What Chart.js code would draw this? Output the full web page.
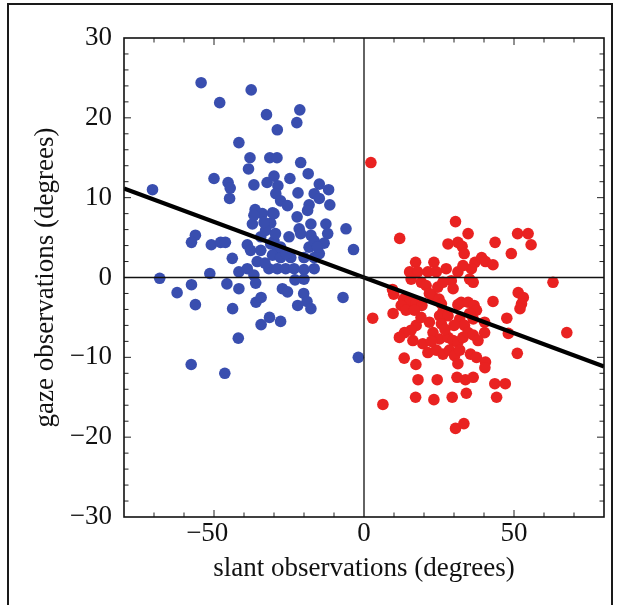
<!DOCTYPE html>
<html><head><meta charset="utf-8">
<script src="https://cdn.jsdelivr.net/npm/chart.js@4.4.1/dist/chart.umd.min.js"></script>
<style>
html,body{margin:0;padding:0;background:#fff;}
#wrap{position:relative;width:617px;height:605px;overflow:hidden;background:#fff;}
#frame{position:absolute;left:7px;top:3px;width:606px;height:700px;border:2px solid #1a1a1a;box-sizing:border-box;}
canvas{position:absolute;left:0;top:0;}
</style></head>
<body><div id="wrap"><div id="frame"></div><canvas id="c" width="617" height="605"></canvas></div>
<script>
// ---- data ----
const blueSlant = [-54.3,-48.1,-37.6,-32.5,-21.4,-22.4,-28.9,-41.7,-38.0,-31.4,-29.0,-21.1,-38.5,-18.6,-50.0,-45.3,-44.6,-44.8,-36.7,-32.3,
 -30.0,-28.7,-24.7,-14.9,-11.8,-70.5,-29.4,-27.8,-22.0,-16.6,-14.9,-11.4,-25.5,-18.3,-18.8,-36.3,-33.9,-30.5,-22.3,-31.1,
 -37.2,-36.7,-21.6,-21.1,-17.7,-17.7,-12.7,-12.1,-13.3,-25.0,-6.0,-3.5,-56.2,-57.5,-50.9,-47.8,-46.2,-43.9,-51.4,-38.9,
 -37.8,-34.4,-34.4,-35.6,-32.8,-41.7,-38.9,-36.7,-36.1,-45.7,-41.7,-57.5,-56.2,-43.8,-68.1,-62.3,-30.0,-31.1,-28.9,-30.5,
 -27.8,-24.4,-20.0,-18.3,-16.6,-14.9,-31.7,-28.9,-26.1,-23.3,-20.0,-16.6,-20.0,-27.2,-25.5,-20.1,-19.0,-17.7,-22.1,-36.0,
 -34.3,-7.0,-31.5,-34.3,-27.8,-41.9,-1.9,-57.6,-46.4,-33.3,-16.6,-15.5,-30.0,-27.8,-33.0,-29.5,-26.0,-23.0];
const blueGaze = [24.4,21.9,23.5,20.4,21.0,19.4,18.5,16.9,15.0,15.0,15.0,14.4,13.6,13.0,12.4,11.9,11.2,9.9,11.6,11.9,
 12.7,11.5,12.4,11.7,11.0,11.0,10.5,9.6,10.6,10.5,9.9,9.1,9.0,9.1,8.4,8.5,8.0,8.1,7.6,6.8,
 6.7,7.8,6.1,5.5,6.7,5.3,6.7,5.5,4.3,5.1,6.1,3.5,5.3,4.4,4.1,4.4,4.4,2.4,0.5,4.1,
 3.4,5.1,3.4,2.0,5.9,0.7,1.1,0.3,-0.7,-0.8,-1.4,-0.9,-3.4,-3.9,-0.1,-1.9,8.0,4.2,3.6,2.8,
 2.5,2.5,2.5,3.8,2.5,3.0,1.1,1.1,1.1,1.1,1.0,1.1,-0.2,-1.4,-1.8,-2.0,-3.0,-3.9,-3.5,-3.1,
 -2.5,-2.5,-5.0,-5.9,-5.5,-7.6,-10.0,-10.9,-12.0,6.9,4.6,3.8,4.6,3.8,1.8,5.5,3.0,-0.3];

const redSlant = [2.3,11.9,30.5,34.7,28.0,31.3,32.7,33.4,43.7,51.2,54.7,55.7,49.1,17.2,23.3,37.0,39.2,40.5,43.0,35.8,
 35.2,36.4,27.4,31.3,29.1,29.7,15.2,17.9,21.3,24.1,15.7,19.1,20.7,24.6,26.3,9.5,9.9,63.0,51.4,53.1,
 52.5,52.0,43.0,13.2,15.2,17.4,23.0,25.0,32.4,34.7,36.7,2.9,9.7,12.4,19.3,14.0,16.8,21.8,25.8,26.3,
 25.2,28.0,31.3,37.5,35.2,31.9,33.5,36.4,40.2,21.8,25.8,47.6,40.2,48.1,67.6,17.4,15.7,13.5,11.8,16.3,
 19.6,23.0,25.2,28.0,29.7,31.3,33.0,34.7,36.4,38.0,21.3,24.1,26.3,28.5,30.2,31.9,35.5,37.5,40.5,40.3,
 51.1,13.4,17.3,31.3,18.0,24.4,31.0,33.8,36.4,43.6,47.1,34.1,44.2,17.2,23.3,29.4,6.3,30.5,33.3,22.5,
 27.0,30.0,19.0,33.0];
const redGaze = [14.4,4.9,7.0,5.5,4.2,4.4,3.9,3.0,4.4,5.5,5.5,4.1,3.0,1.9,1.9,1.9,2.5,2.0,1.6,1.1,
 -0.2,-0.6,1.1,0.7,-0.4,-1.4,0.7,0.7,0.7,0.7,-0.2,-0.6,-1.0,-1.2,-0.6,-1.5,-2.1,-0.6,-1.9,-2.5,
 -3.3,-3.9,-3.0,-2.7,-3.0,-3.2,-2.4,-2.7,-3.1,-3.1,-3.5,-5.1,-4.5,-3.5,-3.5,-4.1,-4.1,-2.0,-3.3,-4.3,
 -4.8,-4.8,-3.4,-4.1,-4.5,-5.2,-6.0,-5.2,-5.6,-5.6,-5.8,-5.1,-6.9,-7.0,-6.9,-6.0,-6.6,-6.9,-7.5,-7.9,
 -8.3,-6.9,-7.7,-7.5,-7.9,-8.1,-7.5,-6.9,-7.2,-7.9,-9.4,-9.1,-9.6,-9.1,-9.8,-9.1,-9.6,-10.0,-10.6,-11.3,
 -9.5,-10.1,-10.9,-10.8,-12.8,-12.8,-12.5,-12.8,-12.5,-13.3,-13.3,-14.5,-15.0,-15.0,-15.3,-15.0,-15.9,-18.9,-18.3,-8.0,
 -6.5,-6.0,-5.0,1.5];

const fitSlant = [-80, 80];
const fitGaze = [11.15, -11.15];

const xTickLabels = [-50, 0, 50];
const yTickLabels = [-30, -20, -10, 0, 10, 20, 30];
const xMinorTicks = [-70,-60,-50,-40,-30,-20,-10,10,20,30,40,50,60,70];
const yMinorTicks = [-28,-26,-24,-22,-20,-18,-16,-14,-12,-10,-8,-6,-4,-2,2,4,6,8,10,12,14,16,18,20,22,24,26,28];
const xTitle = 'slant observations (degrees)';
const yTitle = 'gaze observations (degrees)';

// ---- build ----
const pts = (xs, ys) => xs.map((v, i) => ({x: v, y: ys[i]}));
const serif = "'Liberation Serif','Times New Roman',serif";
const fmt = v => v < 0 ? '\u2212' + Math.abs(v) : String(v);
// x labels: digits centred on the tick, minus hanging to the left
const fmtX = v => v < 0 ? '\u2212' + Math.abs(v) + '\u2002' : String(v);

const framePlugin = {
  id: 'frameTicks',
  afterDatasetsDraw(chart) {
    const {ctx, chartArea: a, scales: {x, y}} = chart;
    ctx.save();
    ctx.strokeStyle = '#111';
    ctx.lineWidth = 1.3;
    const x0 = x.getPixelForValue(0), y0 = y.getPixelForValue(0);
    ctx.beginPath();
    ctx.moveTo(x0, a.top); ctx.lineTo(x0, a.bottom);
    ctx.moveTo(a.left, y0); ctx.lineTo(a.right, y0);
    ctx.stroke();
    ctx.lineWidth = 1;
    ctx.strokeStyle = '#222';
    ctx.beginPath();
    xMinorTicks.forEach(v => {
      const p = x.getPixelForValue(v);
      const L = (v % 50 === 0) ? 7 : 4.5;
      ctx.moveTo(p, a.bottom); ctx.lineTo(p, a.bottom - L);
      ctx.moveTo(p, a.top); ctx.lineTo(p, a.top + L);
    });
    yMinorTicks.forEach(v => {
      const p = y.getPixelForValue(v);
      const L = (v % 10 === 0) ? 7 : 4.5;
      ctx.moveTo(a.left, p); ctx.lineTo(a.left + L, p);
      ctx.moveTo(a.right, p); ctx.lineTo(a.right - L, p);
    });
    ctx.stroke();
    ctx.lineWidth = 1.6;
    ctx.strokeStyle = '#111';
    ctx.strokeRect(a.left, a.top, a.width, a.height);
    ctx.restore();
  }
};

new Chart(document.getElementById('c'), {
  type: 'scatter',
  data: {
    datasets: [
      {type: 'line', data: pts(fitSlant, fitGaze), borderColor: '#000', borderWidth: 4.2, pointRadius: 0, fill: false, order: 0},
      {data: pts(blueSlant, blueGaze), backgroundColor: 'rgb(57,78,175)', borderWidth: 0, pointRadius: 5.8, order: 1},
      {data: pts(redSlant, redGaze), backgroundColor: 'rgb(233,34,33)', borderWidth: 0, pointRadius: 5.8, order: 2}
    ]
  },
  options: {
    responsive: false,
    animation: false,
    devicePixelRatio: 1,
    layout: {padding: {left: 0, right: 13, top: 38, bottom: 0}},
    plugins: {legend: {display: false}, tooltip: {enabled: false}},
    scales: {
      x: {
        type: 'linear', min: -80, max: 80,
        afterBuildTicks: s => { s.ticks = xTickLabels.map(v => ({value: v})); },
        ticks: {callback: fmtX, font: {family: serif, size: 27}, color: '#111', padding: 1, maxRotation: 0, autoSkip: false},
        grid: {display: false, drawTicks: false},
        border: {display: false},
        title: {display: true, text: xTitle, font: {family: serif, size: 27}, color: '#111', padding: {top: 0, bottom: 20}},
        afterFit: s => { s.height = 88; }
      },
      y: {
        type: 'linear', min: -30, max: 30,
        afterBuildTicks: s => { s.ticks = yTickLabels.map(v => ({value: v})); },
        ticks: {callback: fmt, font: {family: serif, size: 27}, color: '#111', padding: 12, autoSkip: false},
        grid: {display: false, drawTicks: false},
        border: {display: false},
        title: {display: true, text: yTitle, font: {family: serif, size: 27}, color: '#111', padding: {top: 30, bottom: 0}},
        afterFit: s => { s.width = 124; }
      }
    }
  },
  plugins: [framePlugin]
});
</script>
</body></html>
